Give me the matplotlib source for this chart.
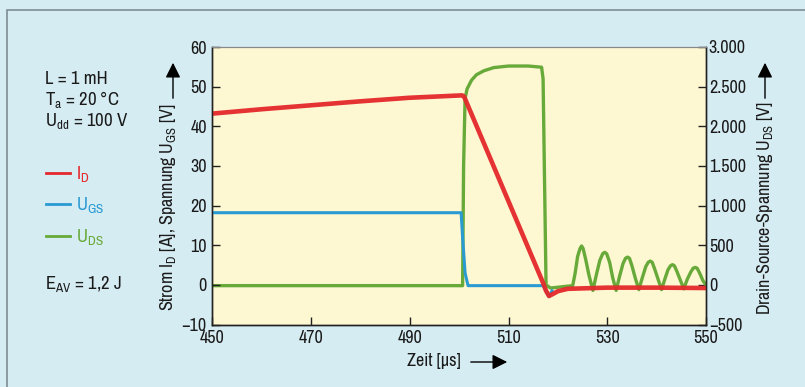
import matplotlib
matplotlib.use("Agg")
import matplotlib.pyplot as plt
from matplotlib.lines import Line2D
from matplotlib.patches import Rectangle, FancyArrowPatch
from matplotlib import font_manager

cond = [f.name for f in font_manager.fontManager.ttflist if 'ondensed' in f.name or 'Narrow' in f.name]
if cond:
    FONT = [cond[0], 'DejaVu Sans']
    SIZE = 13
else:
    FONT = ['DejaVu Sans']
    SIZE = 11
plt.rcParams['font.family'] = FONT
plt.rcParams['font.stretch'] = 'condensed'
plt.rcParams['mathtext.default'] = 'regular'

# ---------------- data ----------------
t_id = [450, 460, 470, 480, 490, 500.6, 501.0, 517.0, 517.6, 518.2, 519.0, 520.0, 522.0, 530.0, 540.0, 550.0]
i_d = [43.2, 44.3, 45.3, 46.3, 47.2, 47.8, 47.5, 0.5, -1.5, -2.8, -2.3, -1.6, -1.0, -0.7, -0.7, -0.8]

t_gs = [450, 500.4, 500.7, 501.2, 501.8, 517.0, 517.6, 518.2, 518.8]
u_gs = [18.2, 18.2, 12.0, 3.0, -0.2, -0.2, -1.5, -3.0, -1.5]

t_ds = [450, 500.7, 500.9, 501.2, 501.6, 502.5, 503.5, 505.0, 507.0, 510.0, 514.0, 516.7, 517.0, 517.6,
        518.5, 523.0, 523.5, 524.0, 524.5, 524.8, 525.1, 525.6, 526.3, 527.1,
        527.8, 528.5, 529.1, 529.5, 529.9, 530.5, 531.1, 531.8,
        532.5, 533.2, 533.7, 534.1, 534.5, 535.0, 535.7, 536.4,
        537.1, 537.8, 538.3, 538.7, 539.1, 539.6, 540.3, 541.0,
        541.7, 542.3, 542.8, 543.2, 543.6, 544.1, 544.8, 545.5,
        546.2, 546.9, 547.4, 547.8, 548.2, 548.7, 549.4, 550.0]
u_ds = [-10, -10, 1500, 2350, 2470, 2580, 2650, 2700, 2740, 2760, 2760, 2745, 2600, 0,
        -40, -10, 150, 360, 460, 490, 460, 330, 120, -70,
        130, 310, 395, 410, 390, 280, 90, -70,
        110, 270, 335, 350, 335, 240, 80, -60,
        90, 230, 285, 300, 285, 200, 70, -60,
        80, 190, 240, 255, 240, 170, 60, -50,
        70, 160, 210, 220, 210, 150, 50, 0]

left_ticks = [-10, 0, 10, 20, 30, 40, 50, 60]
right_ticks = [-500, 0, 500, 1000, 1500, 2000, 2500, 3000]
right_ticklabels = ['\u2212500', '0', '500', '1.000', '1.500', '2.000', '2.500', '3.000']
x_ticks = [450, 470, 490, 510, 530, 550]

# ---------------- style ----------------
BG = '#d6ecf3'
PLOT_BG = '#fdf7d2'
RED = '#e4282b'
BLUE = '#2a9ad3'
GREEN = '#68aa3a'
W, H = 805, 387

fig = plt.figure(figsize=(W / 100, H / 100), dpi=100, facecolor=BG)

def fx(px):
    return px / W

def fy(py):
    return 1 - py / H

fig.add_artist(Rectangle((fx(7), fy(420)), fx(830) - fx(7), fy(10) - fy(420),
                         transform=fig.transFigure, facecolor='none',
                         edgecolor='#7d8c92', lw=1.2))

ax_l, ax_r, ax_t, ax_b = 212.3, 706, 47, 324.5
ax = fig.add_axes([fx(ax_l), fy(ax_b), fx(ax_r) - fx(ax_l), fy(ax_t) - fy(ax_b)])
ax2 = ax.twinx()
ax2.set_zorder(1)
ax.set_zorder(2)
ax.patch.set_visible(False)
ax2.patch.set_visible(True)
ax2.patch.set_facecolor(PLOT_BG)

ax2.plot(t_ds, u_ds, color=GREEN, lw=2.4, solid_joinstyle='round')
ax.plot(t_gs, u_gs, color=BLUE, lw=2.2, solid_joinstyle='round')
ax.plot(t_id, i_d, color=RED, lw=3.3, alpha=0.95, solid_joinstyle='round')

ax.set_xlim(450, 550)
ax.set_ylim(-10, 60)
ax2.set_ylim(-500, 3000)
ax.set_xticks(x_ticks)
ax.set_yticks(left_ticks)
ax.set_yticklabels(['\u221210'] + [str(v) for v in left_ticks[1:]])
ax2.set_yticks(right_ticks)
ax2.set_yticklabels(right_ticklabels)

for a in (ax, ax2):
    for s in a.spines.values():
        s.set_color('#222222')
        s.set_linewidth(1.0)
    a.spines['top'].set_color('#888888')
    a.spines['top'].set_linewidth(0.8)

ax.tick_params(axis='both', direction='in', length=6, width=1.0, color='#222222',
               labelsize=SIZE, pad=3)
ax.tick_params(axis='x', pad=4)
ax.tick_params(axis='y', pad=4)
ax2.tick_params(axis='y', direction='in', length=6, width=1.0, color='#222222',
                labelsize=SIZE, pad=2)
for lab in ax.get_xticklabels() + ax.get_yticklabels() + ax2.get_yticklabels():
    lab.set_color('#1a1a1a')

AKW = dict(transform=fig.transFigure, arrowstyle='-|>,head_length=6,head_width=3',
           color='black', lw=1.0, mutation_scale=1.5)
fig.text(fx(168), fy(311), 'Strom I$_{D}$ [A], Spannung U$_{GS}$ [V]', rotation=90,
         ha='center', va='bottom', fontsize=SIZE, color='#1a1a1a')
fig.add_artist(FancyArrowPatch((fx(173), fy(101)), (fx(173), fy(60)), **AKW))
fig.text(fx(765), fy(315), 'Drain-Source-Spannung U$_{DS}$ [V]', rotation=90,
         ha='center', va='bottom', fontsize=SIZE, color='#1a1a1a')
fig.add_artist(FancyArrowPatch((fx(765), fy(101)), (fx(765), fy(60)), **AKW))
fig.text(fx(434), fy(361), 'Zeit [\u00b5s]', ha='center', va='center', fontsize=SIZE,
         color='#1a1a1a')
fig.add_artist(FancyArrowPatch((fx(468), fy(362)), (fx(510), fy(362)), **AKW))

tx = fx(45)
LS = SIZE + 0.5
fig.text(tx, fy(79), 'L = 1 mH', ha='left', va='center', fontsize=LS, color='#1a1a1a')
fig.text(tx, fy(100), 'T$_{a}$ = 20 \u00b0C', ha='left', va='center', fontsize=LS, color='#1a1a1a')
fig.text(tx, fy(121), 'U$_{dd}$ = 100 V', ha='left', va='center', fontsize=LS, color='#1a1a1a')

legend_items = [('I$_{D}$', RED, 173), ('U$_{GS}$', BLUE, 204), ('U$_{DS}$', GREEN, 236)]
for label, col, py in legend_items:
    fig.add_artist(Line2D([fx(46), fx(70)], [fy(py), fy(py)], transform=fig.transFigure,
                          color=col, lw=2.0))
    fig.text(fx(76), fy(py + 1), label, ha='left', va='center', fontsize=LS, color=col)

fig.text(tx, fy(284), 'E$_{AV}$ = 1,2 J', ha='left', va='center', fontsize=LS, color='#1a1a1a')

fig.savefig('out.png', dpi=100, facecolor=BG)
